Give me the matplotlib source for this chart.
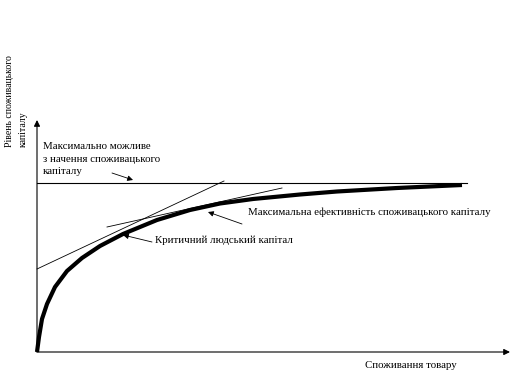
import matplotlib
matplotlib.use("Agg")
import matplotlib.pyplot as plt
import numpy as np

# Schematic data (x = consumption, y = level of consumer capital)
curve_x = [0, 2, 5, 10, 18, 30, 45, 63, 86, 120, 153, 183, 216, 263, 300, 360, 425]
curve_y = [0, 15, 33, 48, 65, 81, 94, 106, 118, 132, 142, 148.5, 153, 157.5, 160.5, 164, 167]
max_level = 169
max_x_end = 430
tangent1_x = [0, 187]
tangent1_y = [83, 171]
tangent2_x = [70, 245]
tangent2_y = [125, 164]

label_max = "Максимально можливе\nз начення споживацького\nкапіталу"
label_eff = "Максимальна ефективність споживацького капіталу"
label_crit = "Критичний людський капітал"
x_label = "Споживання товару"
y_label_1 = "Рівень споживацького"
y_label_2 = "капіталу"

plt.rcParams['font.family'] = ['Liberation Serif', 'DejaVu Serif']

fig = plt.figure(figsize=(5.11, 3.76), dpi=100)
ax = fig.add_axes([0, 0, 1, 1])
ax.set_xlim(-37, 474)
ax.set_ylim(-24, 352)
ax.axis('off')

fs = 7.8
# axes
ax.annotate("", xy=(0, 232), xytext=(0, 0),
            arrowprops=dict(arrowstyle='-|>', lw=0.8, color='black', mutation_scale=9,
                            shrinkA=0, shrinkB=0))
ax.annotate("", xy=(473, 0), xytext=(0, 0),
            arrowprops=dict(arrowstyle='-|>', lw=0.8, color='black', mutation_scale=9,
                            shrinkA=0, shrinkB=0))

ax.plot([0, max_x_end], [max_level, max_level], color='black', lw=0.8)
ax.plot(tangent1_x, tangent1_y, color='black', lw=0.6)
ax.plot(tangent2_x, tangent2_y, color='black', lw=0.6)
ax.plot(curve_x, curve_y, color='black', lw=3.0, solid_capstyle='butt',
        solid_joinstyle='round')

def arrow(xy, xytext):
    ax.annotate("", xy=xy, xytext=xytext,
                arrowprops=dict(arrowstyle='-|>', lw=0.6, color='black', mutation_scale=8,
                                shrinkA=0, shrinkB=0))

arrow((96, 172), (75, 179))
arrow((171, 140), (205, 128))
arrow((86, 117), (115, 110))

ax.text(6, 193, label_max, fontsize=fs, ha='left', va='center', linespacing=1.5)
ax.text(211, 140, label_eff, fontsize=fs, ha='left', va='center')
ax.text(118, 112, label_crit, fontsize=fs, ha='left', va='center')
ax.text(328, -14, x_label, fontsize=fs, ha='left', va='center')
ax.text(-27, 205, y_label_1, fontsize=7, ha='left', va='center', rotation=90,
        rotation_mode='anchor')
ax.text(-14, 205, y_label_2, fontsize=7, ha='left', va='center', rotation=90,
        rotation_mode='anchor')

fig.savefig("out.png", dpi=100)
